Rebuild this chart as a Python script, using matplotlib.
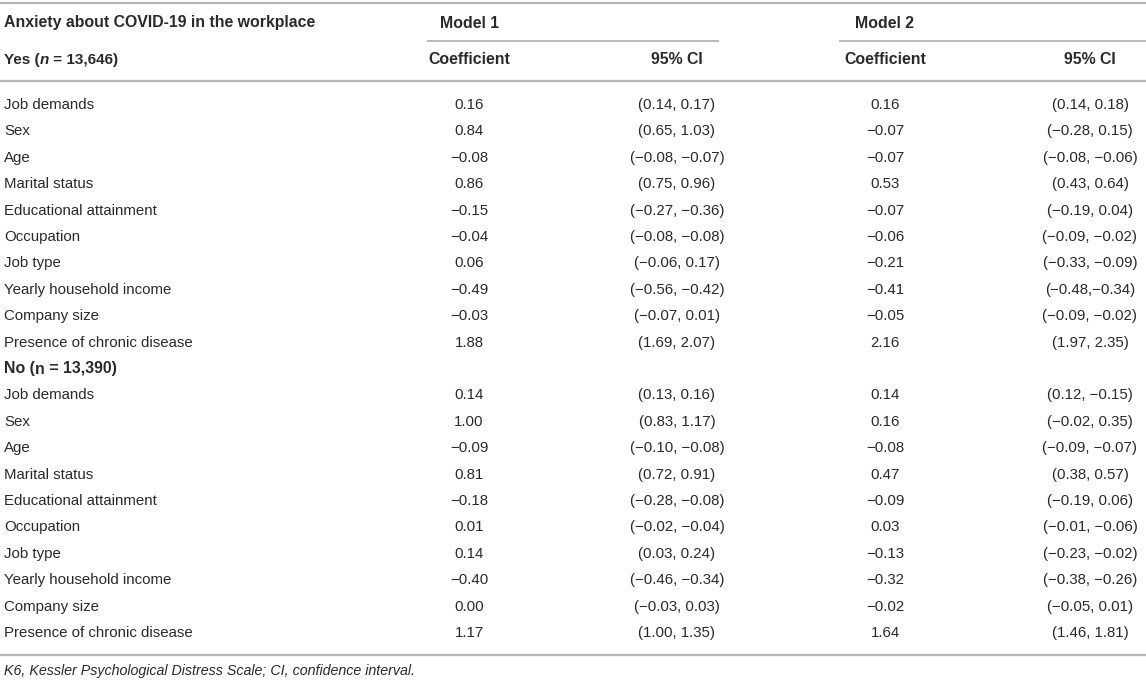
import matplotlib
matplotlib.use("Agg")
import matplotlib.pyplot as plt

plt.rcParams['font.family'] = ['Liberation Sans', 'DejaVu Sans']

M = "\u2212"  # real minus sign

# --- Table data ---
variables = ["Job demands", "Sex", "Age", "Marital status", "Educational attainment",
             "Occupation", "Job type", "Yearly household income", "Company size",
             "Presence of chronic disease"]

yes_m1_coef = ["0.16", "0.84", M + "0.08", "0.86", M + "0.15", M + "0.04", "0.06", M + "0.49", M + "0.03", "1.88"]
yes_m1_ci = ["(0.14, 0.17)", "(0.65, 1.03)", f"({M}0.08, {M}0.07)", "(0.75, 0.96)", f"({M}0.27, {M}0.36)",
             f"({M}0.08, {M}0.08)", f"({M}0.06, 0.17)", f"({M}0.56, {M}0.42)", f"({M}0.07, 0.01)", "(1.69, 2.07)"]
yes_m2_coef = ["0.16", M + "0.07", M + "0.07", "0.53", M + "0.07", M + "0.06", M + "0.21", M + "0.41", M + "0.05", "2.16"]
yes_m2_ci = ["(0.14, 0.18)", f"({M}0.28, 0.15)", f"({M}0.08, {M}0.06)", "(0.43, 0.64)", f"({M}0.19, 0.04)",
             f"({M}0.09, {M}0.02)", f"({M}0.33, {M}0.09)", f"({M}0.48,{M}0.34)", f"({M}0.09, {M}0.02)", "(1.97, 2.35)"]

no_m1_coef = ["0.14", "1.00", M + "0.09", "0.81", M + "0.18", "0.01", "0.14", M + "0.40", "0.00", "1.17"]
no_m1_ci = ["(0.13, 0.16)", "(0.83, 1.17)", f"({M}0.10, {M}0.08)", "(0.72, 0.91)", f"({M}0.28, {M}0.08)",
            f"({M}0.02, {M}0.04)", "(0.03, 0.24)", f"({M}0.46, {M}0.34)", f"({M}0.03, 0.03)", "(1.00, 1.35)"]
no_m2_coef = ["0.14", "0.16", M + "0.08", "0.47", M + "0.09", "0.03", M + "0.13", M + "0.32", M + "0.02", "1.64"]
no_m2_ci = [f"(0.12, {M}0.15)", f"({M}0.02, 0.35)", f"({M}0.09, {M}0.07)", "(0.38, 0.57)", f"({M}0.19, 0.06)",
            f"({M}0.01, {M}0.06)", f"({M}0.23, {M}0.02)", f"({M}0.38, {M}0.26)", f"({M}0.05, 0.01)", "(1.46, 1.81)"]

title = "Anxiety about COVID-19 in the workplace"
models = ["Model 1", "Model 2"]
subheads = ["Coefficient", "95% CI"]
footnote = "K6, Kessler Psychological Distress Scale; CI, confidence interval."

# --- Layout (pixel coords) ---
W, H = 1146, 683
TXT = "#2a2a2a"
RULE = "#b4b4b4"
FS = 10.8      # body text
FSB = 11.4     # bold headers
col_x = [469, 677, 885, 1090]
label_x = 4
row0, step = 105, 26.4

fig = plt.figure(figsize=(W / 100, H / 100), dpi=100)
ax = fig.add_axes([0, 0, 1, 1])
ax.set_xlim(0, W)
ax.set_ylim(H, 0)
ax.axis("off")

# rules
ax.plot([0, W], [3, 3], color=RULE, lw=1.6)
ax.plot([428, 718], [41, 41], color=RULE, lw=1.3)
ax.plot([840, W], [41, 41], color=RULE, lw=1.3)
ax.plot([0, W], [81, 81], color=RULE, lw=1.6)
ax.plot([0, W], [655, 655], color=RULE, lw=1.6)

# header
ax.text(label_x, 23, title, fontsize=FSB, fontweight="bold", color=TXT, va="center")
ax.text(440, 23, models[0], fontsize=FSB, fontweight="bold", color=TXT, va="center")
ax.text(855, 23, models[1], fontsize=FSB, fontweight="bold", color=TXT, va="center")
for i, x in enumerate(col_x):
    ax.text(x, 60, subheads[i % 2], fontsize=FSB, fontweight="bold", color=TXT,
            va="center", ha="center")


def group_label(y, pre, n_italic, post, fs):
    t1 = ax.text(label_x, y, pre, fontsize=fs, fontweight="bold", color=TXT, va="center")
    t2 = ax.annotate("n", xy=(1, 0), xycoords=t1, va="bottom", fontsize=fs,
                     fontweight="bold", style="italic" if n_italic else "normal", color=TXT)
    ax.annotate(post, xy=(1, 0), xycoords=t2, va="bottom", fontsize=fs,
                fontweight="bold", color=TXT)


group_label(60, "Yes (", True, " = 13,646)", 11)

groups = [
    (yes_m1_coef, yes_m1_ci, yes_m2_coef, yes_m2_ci),
    (no_m1_coef, no_m1_ci, no_m2_coef, no_m2_ci),
]

r = 0
for g, cols in enumerate(groups):
    if g == 1:
        group_label(row0 + step * r, "No (", False, " = 13,390)", FSB)
        r += 1
    for i, var in enumerate(variables):
        y = row0 + step * r
        ax.text(label_x, y, var, fontsize=FS, color=TXT, va="center")
        for x, col in zip(col_x, cols):
            ax.text(x, y, col[i], fontsize=FS, color=TXT, va="center", ha="center")
        r += 1

ax.text(label_x, 671, footnote, fontsize=FS - 0.5, style="italic", color=TXT, va="center")

fig.savefig("out.png", dpi=100)
